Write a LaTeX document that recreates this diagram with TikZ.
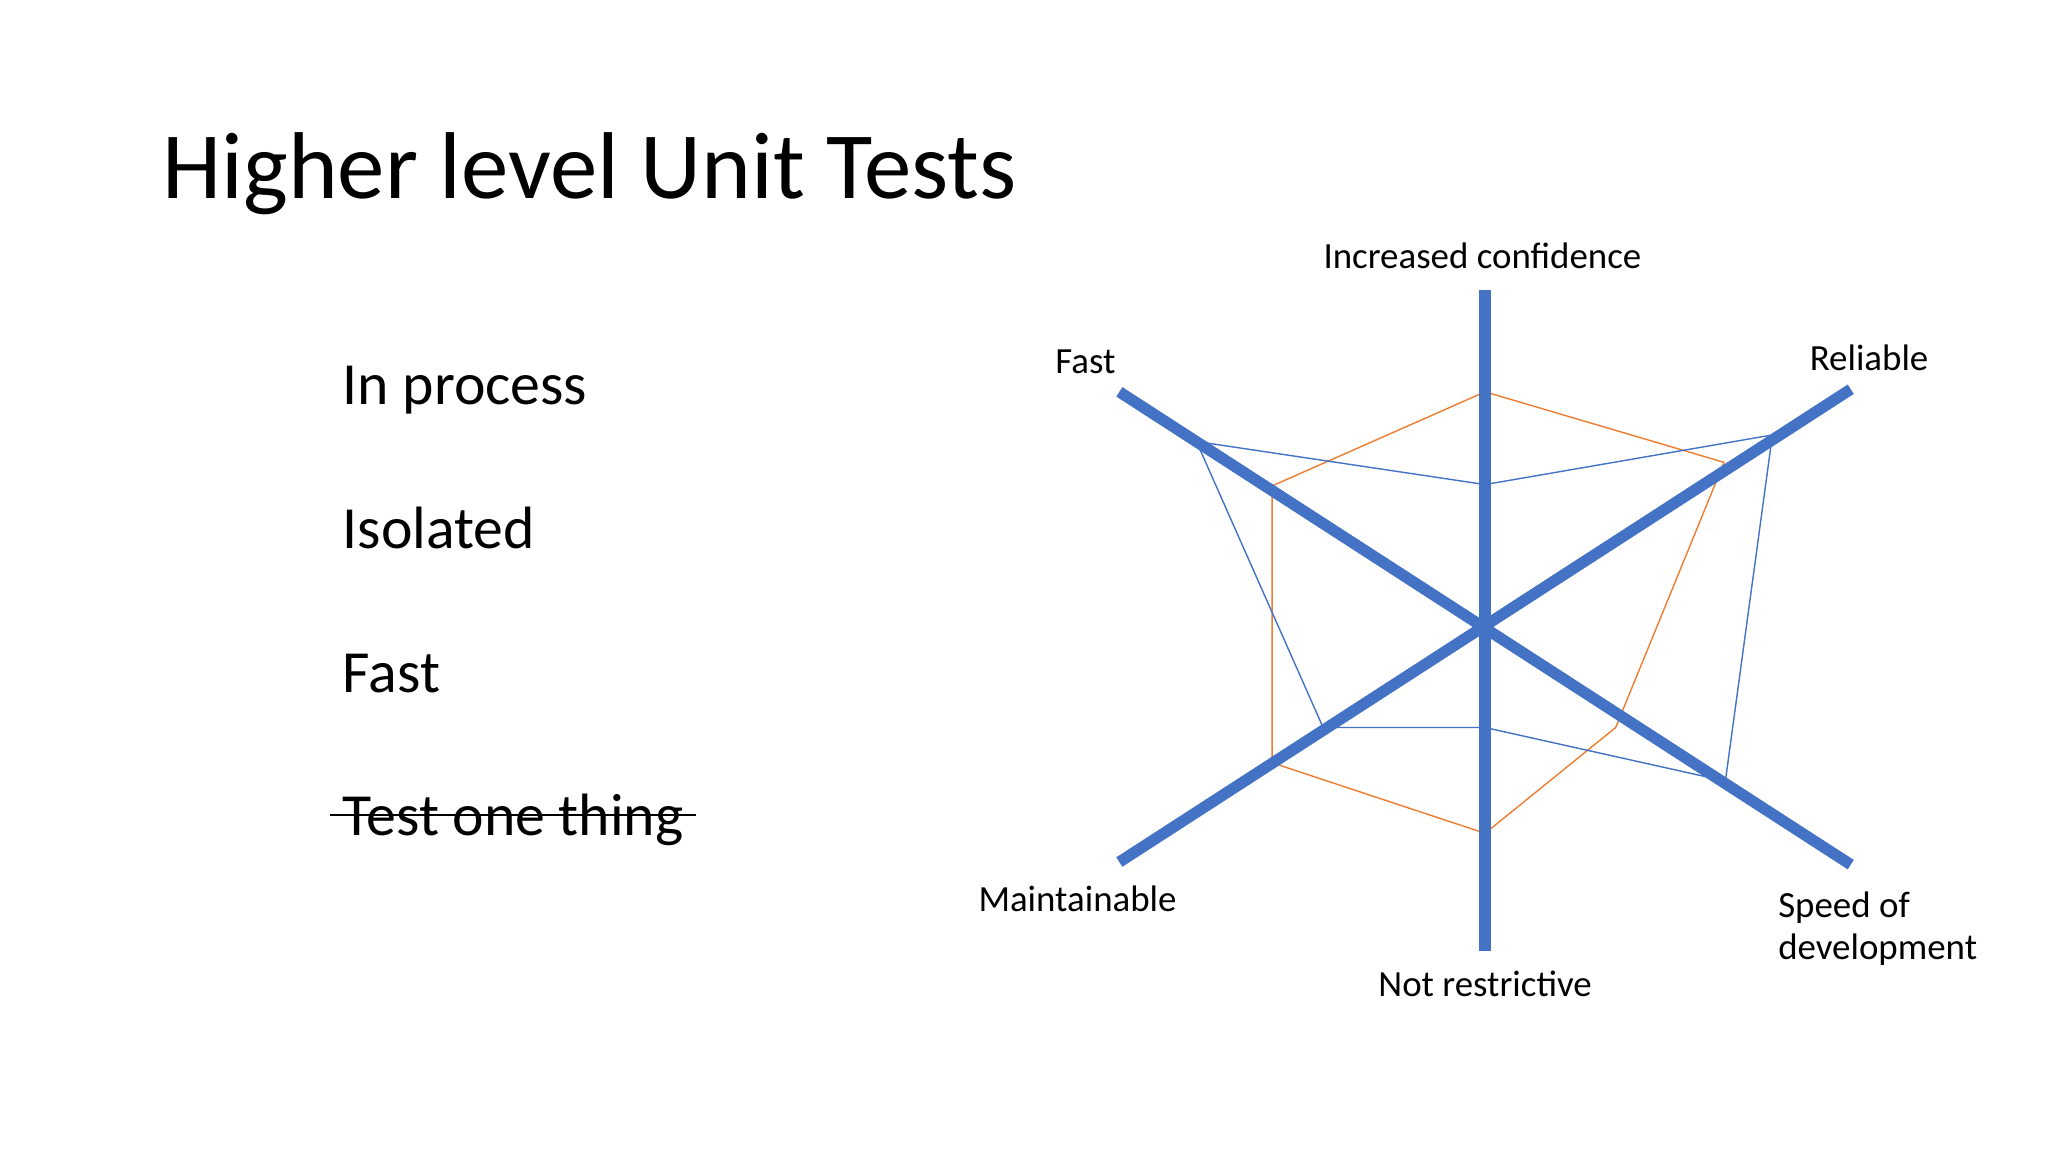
\documentclass[tikz,border=0pt]{standalone}
\usepackage{fontspec}
\setmainfont{Carlito}
\usetikzlibrary{positioning}
\definecolor{axisblue}{RGB}{68,114,196}
\definecolor{seriesorange}{RGB}{237,125,49}
\tikzset{
    axisline/.style={axisblue,line width=3.2pt},
    axislabel/.style={font=\fontsize{10.5}{12}\selectfont,align=left},
    item/.style={font=\fontsize{17}{20}\selectfont,anchor=base west}
}
\begin{document}
\begin{tikzpicture}[x=0.01306cm,y=-0.01306cm]
    
    % page
    \useasboundingbox (0,0) rectangle (1568,882);
    
    \node[anchor=base west,font=\fontsize{27}{32}\selectfont] (title) at (115,152) {Higher level Unit Tests};
    
    % list
    \node[item] (i1) at (253,310) {In process};
    \node[item] (i2) at (253,420) {Isolated};
    \node[item] (i3) at (253,530) {Fast};
    \node[item] (i4) at (253,640) {Test one thing};
    \draw[thick] (i4.west) ++(0,1.5pt) coordinate (s1) -- (s1 -| i4.east);
    
    % axes
    \coordinate (c) at (1137,482);
    \coordinate (top) at (1137,222);
    \coordinate (bot) at (1137,728);
    \coordinate (tl) at (857,300);
    \coordinate (tr) at (1417,298);
    \coordinate (bl) at (857,660);
    \coordinate (br) at (1417,662);
    
    % series
    \draw[seriesorange,thin] (1137,300) -- (1320,354) -- (1237,557) -- (1137,638) -- (974,584) -- (974,372) -- cycle;
    \draw[axisblue,thin] (1137,371) -- (1357,333) -- (1321,598) -- (1137,557) -- (1013,557) -- (916,338) -- cycle;
    
    \draw[axisline] (top) -- (bot);
    \draw[axisline] (tl) -- (br);
    \draw[axisline] (bl) -- (tr);
    
    % labels
    \node[axislabel] (l1) at (1135,196) {Increased confidence};
    \node[axislabel] (l2) at (1431,274) {Reliable};
    \node[axislabel,anchor=west] (l3) at (1352,711) {Speed of\\development};
    \node[axislabel] (l4) at (1137,753) {Not restrictive};
    \node[axislabel] (l5) at (825,688) {Maintainable};
    \node[axislabel] (l6) at (831,277) {Fast};
    
\end{tikzpicture}
\end{document}
